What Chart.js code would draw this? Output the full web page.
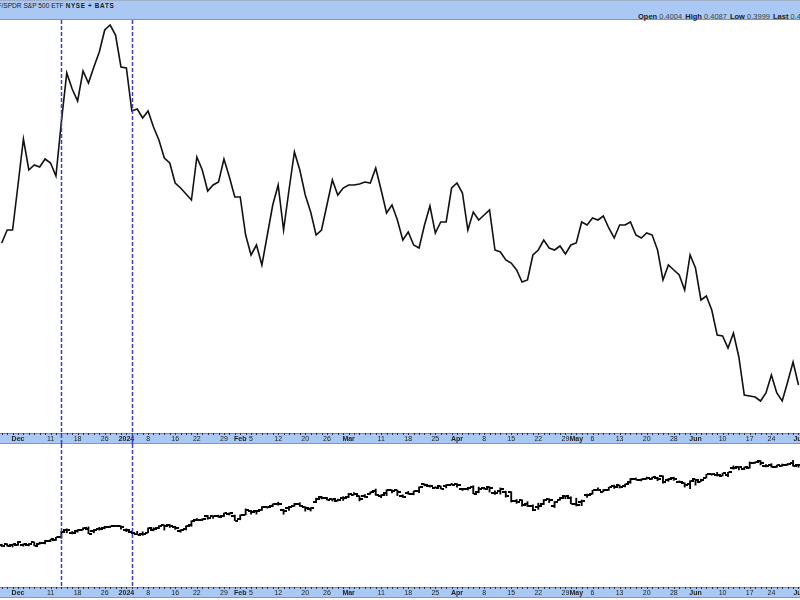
<!DOCTYPE html>
<html>
<head>
<meta charset="utf-8">
<script src="https://cdn.jsdelivr.net/npm/chart.js@4.4.0/dist/chart.umd.min.js"></script>
<style>
  html, body { margin: 0; padding: 0; background: #fff; }
  #wrap { position: relative; width: 800px; height: 600px; overflow: hidden; font-family: "Liberation Sans", Arial, sans-serif; }
  #head { position: absolute; left: 0; top: 0; width: 800px; height: 18px; background: #a9c9f4; border-top: 1px solid #9fb0c6; border-bottom: 1px solid #8c96a3; }
  #title { position: absolute; left: -11px; top: 1px; font-size: 6.6px; color: #1b1b1b; white-space: nowrap; }
  #title b { font-size: 6.3px; letter-spacing: 0.7px; margin-left: 2px; }
  #quote { position: absolute; left: 638px; top: 11px; font-size: 7.5px; color: #1b1b1b; white-space: nowrap; }
  #quote span { color: #444; margin-right: 3px; }
  canvas { position: absolute; left: 0; }
  #main { top: 20px; }
  #lower { top: 444px; }
</style>
</head>
<body>
<div id="wrap">
  <div id="head">
    <div id="title">ETF/SPDR S&amp;P 500 ETF<b>NYSE + BATS</b></div>
    <div id="quote"></div>
  </div>
  <canvas id="main" width="800" height="424"></canvas>
  <canvas id="lower" width="800" height="156"></canvas>
</div>
<script>
// ratio line, one value per trading day (Nov 28 2023 .. Jul 1 2024)
const ratio = [
  0.4710, 0.4775, 0.4775, 0.5000, 0.5230, 0.5075, 0.5100, 0.5090, 0.5130, 0.5110,
  0.5045, 0.5315, 0.5560, 0.5480, 0.5420, 0.5570, 0.5510, 0.5590, 0.5665, 0.5775,
  0.5800, 0.5750, 0.5590, 0.5585, 0.5370, 0.5380, 0.5335, 0.5370, 0.5290, 0.5225,
  0.5135, 0.5110, 0.5010, 0.4985, 0.4955, 0.4925, 0.5140, 0.5075, 0.4970, 0.5000,
  0.5015, 0.5130, 0.5040, 0.4940, 0.4940, 0.4750, 0.4650, 0.4700, 0.4600, 0.4750,
  0.4900, 0.5000, 0.4775, 0.4975, 0.5165, 0.5075, 0.4950, 0.4865, 0.4750, 0.4775,
  0.4900, 0.5025, 0.4950, 0.4985, 0.5000, 0.5000, 0.5005, 0.5015, 0.5010, 0.5085,
  0.4975, 0.4860, 0.4900, 0.4825, 0.4725, 0.4765, 0.4700, 0.4685, 0.4800, 0.4895,
  0.4760, 0.4815, 0.4815, 0.4985, 0.5010, 0.4960, 0.4775, 0.4865, 0.4825, 0.4850,
  0.4875, 0.4675, 0.4665, 0.4625, 0.4610, 0.4575, 0.4515, 0.4525, 0.4650, 0.4675,
  0.4725, 0.4685, 0.4675, 0.4695, 0.4655, 0.4700, 0.4710, 0.4815, 0.4800, 0.4835,
  0.4825, 0.4845, 0.4785, 0.4735, 0.4800, 0.4800, 0.4815, 0.4750, 0.4735, 0.4760,
  0.4750, 0.4675, 0.4525, 0.4600, 0.4575, 0.4550, 0.4475, 0.4650, 0.4585, 0.4425,
  0.4445, 0.4375, 0.4250, 0.4245, 0.4185, 0.4260, 0.4140, 0.3950, 0.3945, 0.3940,
  0.3920, 0.3960, 0.4050, 0.3960, 0.3920, 0.4015, 0.4115, 0.4000
];

// S&P 500 ETF price bars (lower panel)
const spyOpen = [
  455.5, 456.2, 455.1, 455.8, 455.6, 455.3, 458.8, 456.9, 457.5, 459.7,
  461.6, 464.5, 472.5, 469.5, 470.9, 472.5, 474.0, 471.3, 473.9, 474.1,
  475.4, 476.9, 476.5, 472.2, 470.4, 468.3, 467.5, 469.4, 471.9, 474.2,
  477.6, 477.8, 475.3, 471.8, 474.0, 477.7, 484.0, 484.0, 487.8, 487.6,
  487.6, 487.7, 490.6, 488.6, 485.2, 489.7, 493.7, 493.5, 495.1, 498.1,
  498.8, 501.2, 494.5, 496.8, 499.3, 501.7, 497.7, 495.4, 504.0, 509.3,
  508.3, 506.7, 505.3, 508.1, 508.9, 512.0, 510.2, 510.6, 513.1, 515.5,
  510.5, 513.4, 517.1, 516.9, 510.2, 514.0, 512.2, 515.8, 523.4, 522.1,
  519.8, 521.2, 521.7, 523.2, 523.8, 518.2, 517.7, 520.9, 514.5, 519.2,
  520.5, 513.5, 515.7, 514.4, 515.1, 504.9, 506.1, 501.0, 499.4, 497.8,
  501.8, 506.6, 499.2, 506.4, 510.1, 508.6, 501.4, 504.2, 511.2, 512.6,
  517.6, 515.3, 517.4, 521.8, 522.6, 521.1, 525.8, 529.9, 528.8, 529.6,
  529.3, 530.7, 532.7, 527.9, 530.3, 525.7, 524.5, 523.6, 529.0, 526.5,
  530.8, 534.9, 533.7, 533.2, 534.1, 541.6, 543.2, 540.8, 542.1, 547.2,
  549.4, 544.4, 544.7, 543.0, 543.7, 545.4, 547.2, 545.6
];
const spyHigh = [
  456.5, 457.0, 456.5, 459.6, 457.0, 457.3, 459.0, 458.8, 460.9, 462.2,
  464.2, 470.8, 473.7, 470.7, 472.8, 474.9, 475.9, 472.9, 475.4, 476.6,
  476.7, 477.6, 477.0, 473.7, 471.2, 470.9, 470.4, 474.8, 474.9, 477.2,
  478.1, 478.6, 476.6, 472.8, 477.1, 482.7, 485.2, 485.1, 488.8, 488.3,
  489.0, 491.4, 491.6, 489.1, 489.2, 496.0, 494.4, 494.3, 498.5, 498.7,
  501.6, 503.5, 495.5, 499.0, 502.2, 502.9, 498.4, 497.4, 508.0, 510.1,
  508.8, 507.2, 506.9, 509.7, 513.3, 514.2, 510.7, 512.1, 515.0, 518.2,
  511.9, 517.4, 517.3, 517.1, 511.7, 515.5, 516.0, 520.6, 524.1, 522.6,
  520.8, 521.6, 523.2, 524.6, 524.4, 519.0, 520.2, 521.9, 520.4, 520.2,
  520.8, 516.2, 519.5, 515.8, 515.3, 506.5, 506.2, 504.1, 500.5, 502.4,
  506.5, 507.4, 504.3, 509.0, 510.8, 509.6, 508.0, 505.9, 512.6, 516.8,
  519.6, 517.7, 520.2, 522.6, 522.7, 523.8, 530.1, 530.6, 529.5, 531.6,
  531.5, 531.4, 533.1, 530.0, 531.5, 527.3, 525.2, 527.5, 529.3, 529.2,
  534.7, 535.4, 536.8, 536.0, 537.0, 544.1, 543.4, 542.8, 548.5, 548.6,
  550.1, 545.7, 546.6, 545.0, 546.2, 546.8, 550.3, 545.9
];
const spyLow = [
  453.9, 454.2, 453.4, 455.1, 454.3, 454.6, 454.7, 456.5, 456.8, 459.4,
  460.6, 463.1, 469.2, 468.0, 469.9, 472.5, 468.2, 469.2, 472.2, 473.7,
  475.1, 476.3, 473.3, 470.5, 468.2, 467.1, 466.4, 469.3, 471.4, 473.8,
  472.3, 475.2, 473.1, 469.9, 472.4, 476.5, 482.8, 482.9, 484.4, 485.4,
  486.5, 487.2, 489.1, 482.9, 483.8, 489.3, 490.2, 490.2, 494.3, 496.8,
  498.5, 500.2, 490.0, 494.4, 498.8, 498.8, 493.5, 493.6, 503.0, 507.1,
  505.9, 504.8, 504.9, 505.4, 508.6, 511.5, 504.9, 508.8, 512.3, 511.1,
  508.5, 510.9, 514.0, 510.9, 508.8, 512.4, 511.8, 514.1, 521.7, 520.4,
  519.3, 518.4, 519.5, 522.8, 520.4, 516.6, 517.1, 512.9, 514.0, 518.0,
  514.8, 512.1, 512.5, 509.1, 503.6, 502.2, 499.1, 498.6, 493.9, 495.4,
  500.8, 503.1, 497.5, 505.7, 507.4, 501.7, 499.2, 499.6, 508.9, 512.5,
  516.6, 515.1, 516.7, 518.9, 519.3, 520.6, 524.6, 528.4, 527.3, 529.2,
  529.1, 527.6, 524.7, 526.8, 527.9, 525.4, 520.4, 518.6, 522.6, 526.5,
  530.6, 533.7, 532.7, 532.9, 532.1, 540.3, 539.6, 539.9, 541.6, 547.0,
  545.2, 543.0, 542.6, 542.4, 543.7, 544.9, 543.9, 542.5
];
const spyClose = [
  454.9, 454.6, 456.4, 459.1, 456.7, 456.6, 454.8, 458.2, 460.2, 462.0,
  464.1, 470.5, 472.0, 469.3, 472.0, 474.8, 468.3, 472.7, 473.7, 475.7,
  476.5, 476.7, 475.3, 472.7, 468.8, 467.3, 467.9, 474.6, 473.9, 476.6,
  476.4, 476.7, 474.9, 472.3, 476.5, 482.4, 483.5, 484.9, 485.4, 488.0,
  487.4, 491.3, 490.9, 482.9, 489.2, 494.4, 492.6, 494.0, 498.1, 498.3,
  501.2, 501.0, 494.1, 498.6, 502.0, 499.5, 496.8, 497.2, 507.5, 507.9,
  506.0, 506.9, 506.3, 508.1, 512.9, 512.3, 507.2, 509.8, 514.8, 511.7,
  511.3, 516.8, 516.0, 515.0, 509.8, 512.9, 515.7, 520.5, 522.2, 521.2,
  519.8, 518.8, 523.2, 523.1, 522.2, 518.8, 519.4, 513.1, 518.4, 518.7,
  519.3, 514.1, 518.0, 510.9, 504.5, 503.5, 500.6, 499.5, 495.2, 499.7,
  505.7, 505.4, 503.5, 508.3, 510.1, 502.0, 500.4, 505.0, 511.3, 516.8,
  517.1, 517.2, 520.2, 520.8, 520.9, 523.3, 529.8, 528.7, 529.5, 530.1,
  531.4, 529.8, 526.0, 529.4, 529.8, 526.1, 522.6, 527.4, 527.8, 528.4,
  534.7, 534.7, 534.0, 535.7, 537.0, 541.4, 542.5, 542.8, 547.1, 548.5,
  547.0, 544.5, 542.7, 544.8, 545.5, 546.4, 544.2, 545.3
];

// date axis: index of the trading day and its label
const tickIdx = [3, 9, 14, 19, 23, 27, 32, 36, 41, 44, 46, 51, 56, 60, 64, 70, 75, 80,
  84, 89, 94, 99, 104, 106, 109, 114, 119, 124, 128, 133, 138, 142, 147];
const tickText = ['Dec', '11', '18', '26', '2024', '8', '16', '22', '29', 'Feb', '5', '12', '20', '26',
  'Mar', '11', '18', '25', 'Apr', '8', '15', '22', '29', 'May', '6', '13', '20', '28',
  'Jun', '10', '17', '24', 'Jul'];

// vertical event markers (Dec 13, Jan 3)
const markerIdx = [11, 24];

const quoteOpen = '0.4004';
const quoteHigh = '0.4087';
const quoteLow = '0.3999';

document.getElementById('quote').innerHTML =
  '<b>Open</b> <span>' + quoteOpen + '</span><b>High</b> <span>' + quoteHigh +
  '</span><b>Low</b> <span>' + quoteLow + '</span><b>Last</b> <span>' + ratio[ratio.length - 1].toFixed(4) + '</span>';

Chart.defaults.font.family = '"Liberation Sans", Arial, sans-serif';

const isBold = t => t === '2024' || isNaN(+t);

function dateAxis() {
  return {
    type: 'linear',
    min: -0.32,
    max: 147.28,
    offset: false,
    grid: { display: false, drawTicks: false },
    border: { display: false },
    afterBuildTicks: s => { s.ticks = tickIdx.map(v => ({ value: v })); },
    afterFit: s => {
      // fixed band height, and let the last label run off the edge
      s.height = 11;
      s.paddingLeft = 0;
      s.paddingRight = 0;
    },
    ticks: {
      autoSkip: false,
      maxRotation: 0,
      minRotation: 0,
      padding: 2,
      color: '#1e1e1e',
      font: c => ({ size: 7, weight: isBold(tickText[c.index]) ? 'bold' : 'normal' }),
      callback: (v, i) => tickText[i]
    }
  };
}

// light blue date band with daily tick marks
const bandPlugin = {
  id: 'band',
  beforeDraw(chart) {
    const { ctx } = chart;
    const xs = chart.scales.x;
    ctx.save();
    ctx.fillStyle = '#a9c9f4';
    ctx.fillRect(0, xs.top, chart.width, xs.bottom - xs.top);
    ctx.fillStyle = '#8c96a3';
    ctx.fillRect(0, xs.bottom - 1, chart.width, 1);
    ctx.fillStyle = '#7d8899';
    ctx.fillRect(0, xs.top, chart.width, 1);
    ctx.fillStyle = '#2a2f3a';
    for (let k = 0; k < ratio.length; k++) {
      const x = Math.round(xs.getPixelForValue(k));
      ctx.fillRect(x, xs.top, 1, 2);
    }
    ctx.restore();
  }
};

const markerPlugin = {
  id: 'markers',
  afterDraw(chart, args, opts) {
    const { ctx } = chart;
    const xs = chart.scales.x;
    const bottom = opts.toArea ? chart.chartArea.bottom : chart.height;
    ctx.save();
    ctx.strokeStyle = '#3c3cc8';
    ctx.lineWidth = 1.5;
    ctx.setLineDash([4, 2]);
    markerIdx.forEach(k => {
      const x = Math.round(xs.getPixelForValue(k)) + 0.5;
      ctx.beginPath();
      ctx.moveTo(x, 0);
      ctx.lineTo(x, bottom);
      ctx.stroke();
    });
    ctx.restore();
  }
};

const mainChart = new Chart(document.getElementById('main'), {
  type: 'line',
  data: {
    datasets: [{
      data: ratio.map((v, k) => ({ x: k, y: v })),
      borderColor: '#111',
      borderWidth: 1.6,
      pointRadius: 0,
      tension: 0
    }]
  },
  options: {
    responsive: false,
    animation: false,
    layout: { padding: 0, autoPadding: false },
    plugins: { legend: { display: false }, tooltip: { enabled: false }, markers: { toArea: false } },
    scales: {
      x: dateAxis(),
      y: { display: false, min: 0.376, max: 0.5825 }
    }
  },
  plugins: [bandPlugin, markerPlugin]
});

function tickImage(side) {
  const c = document.createElement('canvas');
  c.width = 7;
  c.height = 2;
  const g = c.getContext('2d');
  g.fillStyle = '#000';
  g.fillRect(side === 'open' ? 0 : 4, 0, 3, 2);
  return c;
}

const lowerChart = new Chart(document.getElementById('lower'), {
  type: 'bar',
  data: {
    datasets: [
      {
        type: 'bar',
        data: spyHigh.map((h, k) => ({ x: k, y: [spyLow[k], h] })),
        backgroundColor: '#000',
        barThickness: 1.2,
        grouped: false
      },
      {
        type: 'line',
        data: spyOpen.map((o, k) => ({ x: k, y: o })),
        showLine: false,
        borderWidth: 0,
        pointBorderWidth: 0,
        pointStyle: tickImage('open'),
        pointRadius: 0.11
      },
      {
        type: 'line',
        data: spyClose.map((c, k) => ({ x: k, y: c })),
        showLine: false,
        borderWidth: 0,
        pointBorderWidth: 0,
        pointStyle: tickImage('close'),
        pointRadius: 0.11
      }
    ]
  },
  options: {
    responsive: false,
    animation: false,
    layout: { padding: { left: 0, right: 0, top: 0, bottom: 2 }, autoPadding: false },
    plugins: { legend: { display: false }, tooltip: { enabled: false }, markers: { toArea: true } },
    scales: {
      x: dateAxis(),
      y: { display: false, min: 408.6, max: 568.6 }
    }
  },
  plugins: [bandPlugin, markerPlugin]
});
</script>
</body>
</html>
